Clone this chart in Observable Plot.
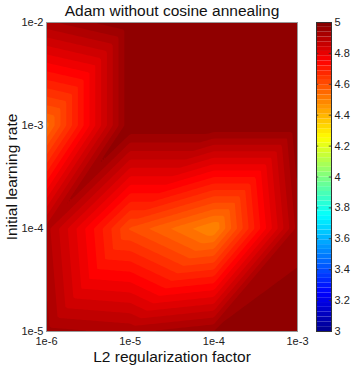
<!DOCTYPE html>
<html><head><meta charset="utf-8">
<script src="https://cdn.jsdelivr.net/npm/d3@7"></script>
<script src="https://cdn.jsdelivr.net/npm/@observablehq/plot@0.6"></script>
<style>
body{margin:0;background:#fff;}
#wrap{position:relative;width:358px;height:367px;}
#wrap svg{position:absolute;top:0;}
</style></head><body><div id="wrap"></div>
<script>
const l2Factors = [1e-6, 1e-5, 1e-4, 1e-3];
const learningRates = [1e-5, 1e-4, 1e-3, 1e-2];
// one row per learning rate (1e-5 .. 1e-2), columns follow l2Factors
const scoreLr1e5 = [4.95, 4.93, 4.97, 5.00];
const scoreLr1e4 = [4.92, 4.62, 4.50, 4.95];
const scoreLr1e3 = [4.55, 5.00, 5.00, 5.00];
const scoreLr1e2 = [4.93, 5.00, 5.00, 5.00];
const xTickLabels = ["1e-6", "1e-5", "1e-4", "1e-3"];
const yTickLabels = ["1e-5", "1e-4", "1e-3", "1e-2"];
const colorTicks = [3, 3.2, 3.4, 3.6, 3.8, 4, 4.2, 4.4, 4.6, 4.8, 5];
const titleText = "Adam without cosine annealing";
const xLabelText = "L2 regularization factor";
const yLabelText = "Initial learning rate";

const scoreRows = [scoreLr1e5, scoreLr1e4, scoreLr1e3, scoreLr1e2];
const gridData = learningRates.flatMap((lr, j) => l2Factors.map((l2, i) => ({l2, lr, score: scoreRows[j][i]})));
const nLevels = 64;
const thresholds = d3.range(nLevels).map(i => 3 + i * 2 / nLevels);
const bands = d3.range(nLevels).map(i => ({lo: 3 + i * 2 / nLevels, hi: 3 + (i + 1) * 2 / nLevels, mid: 3 + (i + 0.5) * 2 / nLevels}));

// Linear interpolation on the triangulated grid (each cell split along its
// lower-left / upper-right diagonal), as Plot's "interpolate" function option.
function triangulatedGrid(index, width, height, X, Y, V) {
  const idx = Array.from(index);
  const xs = Array.from(new Set(idx.map(i => X[i]))).sort((a, b) => a - b);
  const ys = Array.from(new Set(idx.map(i => Y[i]))).sort((a, b) => a - b);
  const val = new Map(idx.map(i => [X[i] + "," + Y[i], V[i]]));
  const g = (x, y) => val.get(x + "," + y);
  const iBottom = idx.find(i => gridData[i].lr === learningRates[0]);
  const lowIsBottom = Y[iBottom] === ys[0];
  const W = new Float64Array(width * height);
  const locate = (arr, t) => {
    let k = 0;
    while (k < arr.length - 2 && t > arr[k + 1]) k++;
    return k;
  };
  for (let py = 0; py < height; py++) {
    const y = py + 0.5;
    const j = locate(ys, y);
    const v = Math.max(0, Math.min(1, (y - ys[j]) / (ys[j + 1] - ys[j])));
    for (let px = 0; px < width; px++) {
      const x = px + 0.5;
      const i = locate(xs, x);
      const u = Math.max(0, Math.min(1, (x - xs[i]) / (xs[i + 1] - xs[i])));
      const a = g(xs[i], ys[j]), b = g(xs[i + 1], ys[j]);
      const c = g(xs[i], ys[j + 1]), d = g(xs[i + 1], ys[j + 1]);
      let f;
      if (lowIsBottom) {
        f = u >= v ? a + u * (b - a) + v * (d - b) : a + v * (c - a) + u * (d - c);
      } else {
        f = u + v <= 1 ? a + u * (b - a) + v * (c - a) : d + (1 - u) * (c - d) + (1 - v) * (b - d);
      }
      W[py * width + px] = f;
    }
  }
  return W;
}

const colorOpts = {
  type: "linear",
  domain: [3, 3.25, 3.75, 4.25, 4.75, 5],
  range: ["#00008f", "#0000ff", "#00ffff", "#ffff00", "#ff0000", "#800000"],
  interpolate: "rgb",
  clamp: true
};
const font = "'Liberation Sans', Arial, Helvetica, sans-serif";

const main = Plot.plot({
  width: 358, height: 367,
  marginLeft: 46, marginRight: 61, marginTop: 22, marginBottom: 36,
  style: {fontFamily: font, fontSize: "11px", color: "#222", background: "transparent"},
  x: {type: "log", domain: [1e-6, 1e-3], ticks: l2Factors, tickFormat: d => xTickLabels[l2Factors.indexOf(d)], tickSize: 0, tickPadding: 6, label: null},
  y: {type: "log", domain: [1e-5, 1e-2], ticks: learningRates, tickFormat: d => yTickLabels[learningRates.indexOf(d)], tickSize: 0, tickPadding: 3, label: null},
  color: colorOpts,
  marks: [
    Plot.contour(gridData, {x: "l2", y: "lr", value: "score", fill: "value", interpolate: triangulatedGrid, thresholds, stroke: "none", blur: 0}),
    Plot.frame({stroke: "#999"}),
    Plot.text([titleText], {frameAnchor: "top", lineAnchor: "middle", textAnchor: "middle", dy: -11.5, fontSize: 15.5, fill: "#111"}),
    Plot.text([xLabelText], {frameAnchor: "bottom", lineAnchor: "middle", textAnchor: "middle", dy: 26, fontSize: 15.5, fill: "#111"}),
    Plot.text([yLabelText], {frameAnchor: "left", lineAnchor: "middle", textAnchor: "middle", dx: -34, rotate: -90, fontSize: 15.5, fill: "#111"})
  ]
});
main.style.left = "0px";

const bar = Plot.plot({
  width: 42, height: 367,
  marginLeft: 0, marginRight: 27, marginTop: 22, marginBottom: 36,
  style: {fontFamily: font, fontSize: "11px", color: "#222", background: "transparent"},
  x: {domain: [0, 1], axis: null},
  y: {domain: [3, 5], ticks: colorTicks, tickFormat: d => String(+d.toFixed(1)), axis: "right", tickSize: 0, tickPadding: 3, label: null},
  color: colorOpts,
  marks: [
    Plot.rect(bands, {y1: "lo", y2: "hi", fill: "mid"}),
    Plot.ruleY(colorTicks, {x1: () => 0, x2: () => 0.15, stroke: "#333", strokeWidth: 0.8}),
    Plot.ruleY(colorTicks, {x1: () => 0.85, x2: () => 1, stroke: "#333", strokeWidth: 0.8}),
    Plot.frame({stroke: "#333"})
  ]
});
bar.style.left = "316px";

const wrap = document.getElementById("wrap");
wrap.appendChild(main);
wrap.appendChild(bar);
</script>
</body></html>
